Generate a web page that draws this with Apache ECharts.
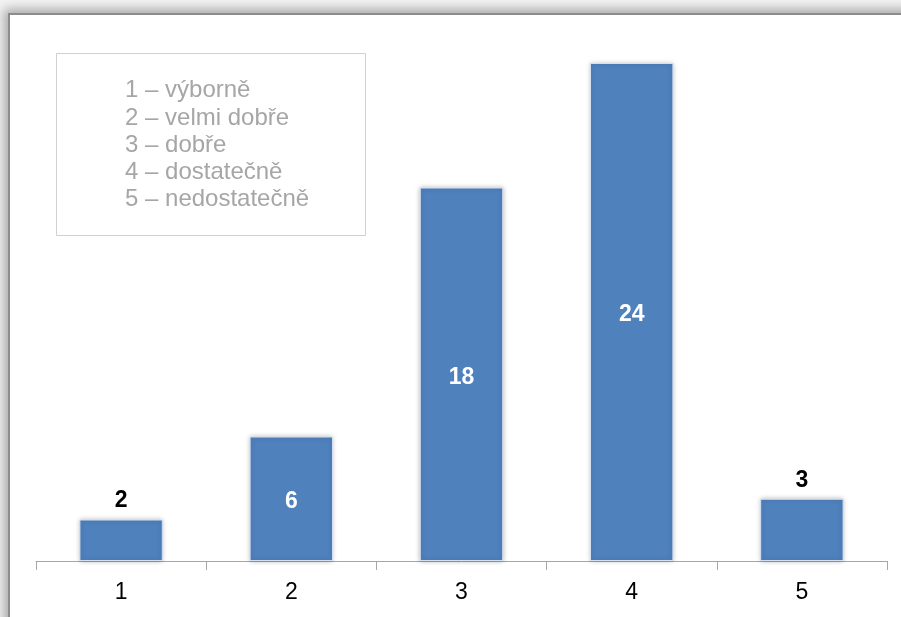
<!DOCTYPE html>
<html>
<head>
<meta charset="utf-8">
<script src="https://cdn.jsdelivr.net/npm/echarts@6/dist/echarts.min.js"></script>
<style>
    html, body { margin: 0; padding: 0; background: #f2f2f2; overflow: hidden; }
    #frame {
        position: absolute; left: 8px; top: 13px; width: 910px; height: 620px;
        background: #fff;
        border-left: 2px solid #8c8c8c; border-top: 2px solid #8c8c8c;
        box-shadow: -4px -4px 10px rgba(0, 0, 0, 0.3);
    }
    #main { position: absolute; left: 0; top: 0; width: 901px; height: 617px; }
</style>
</head>
<body>
<div id="frame"></div>
<div id="main"></div>
<script>
// hodnocení (známky) a počty
var categories = ['1', '2', '3', '4', '5'];
var values = [2, 6, 18, 24, 3];
var legendLines = ['1 – výborně', '2 – velmi dobře', '3 – dobře', '4 – dostatečně', '5 – nedostatečně'];

var myChart = echarts.init(document.getElementById('main'));

// malé sloupce mají popisek nad sebou, ostatní uvnitř
var barData = values.map(function (v) {
    var outside = v < 5;
    return {
        value: v,
        label: {
            position: outside ? 'top' : 'inside',
            color: outside ? '#000' : '#fff',
            offset: outside ? [0, 0] : [0, 3],
            distance: 7
        }
    };
});

var option = {
    animation: false,
    grid: {
        left: 36,
        right: 14,
        top: 63,
        bottom: 56
    },
    xAxis: {
        type: 'category',
        data: categories,
        axisLine: {
            lineStyle: { color: '#a6a6a6', width: 1 }
        },
        axisTick: {
            show: true,
            length: 9,
            lineStyle: { color: '#a6a6a6' }
        },
        axisLabel: {
            color: '#000',
            fontSize: 23,
            fontFamily: 'Liberation Sans',
            margin: 20
        }
    },
    yAxis: {
        type: 'value',
        min: 0,
        max: 24,
        show: false,
        splitLine: { show: false }
    },
    series: [{
        type: 'bar',
        data: barData,
        barWidth: '49%',
        itemStyle: {
            color: '#4f81bd',
            borderColor: '#d5e0ef',
            borderWidth: 1,
            shadowBlur: 5,
            shadowColor: 'rgba(0, 0, 0, 0.25)'
        },
        label: {
            show: true,
            fontSize: 23,
            fontWeight: 'bold',
            fontFamily: 'Liberation Sans'
        }
    }],
    graphic: [
        {
            type: 'rect',
            left: 56,
            top: 53,
            shape: { width: 309, height: 182 },
            style: { fill: '#fff', stroke: '#d0d0d0', lineWidth: 1 }
        },
        {
            type: 'text',
            left: 125,
            top: 77,
            style: {
                text: legendLines.join('\n'),
                fill: '#a6a6a6',
                font: '24px "Liberation Sans"',
                lineHeight: 27.25
            }
        }
    ]
};

myChart.setOption(option);
window.addEventListener('resize', function () {
    myChart.resize();
});
</script>
</body>
</html>
